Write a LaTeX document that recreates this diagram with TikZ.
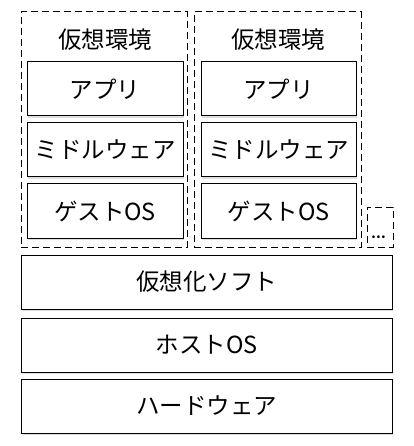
\documentclass[tikz,border=0pt]{standalone}
\usepackage{fontspec}
\newfontfamily\jpfont{Noto Sans CJK JP}
\usepackage{tikz}
\usetikzlibrary{shadows}
\usetikzlibrary{positioning}
\tikzset{layer/.style={draw, line width=1pt, fill=white, minimum height=54pt, inner sep=0pt,
	drop shadow={shadow xshift=0.8pt, shadow yshift=-2pt, opacity=0.25}}}
\tikzset{vm/.style={draw, dashed, dash pattern=on 7pt off 4pt, line width=1pt, inner sep=0pt}}

\begin{document}
\begin{tikzpicture}[x=1pt, y=-1pt]
	% Default font for each node
	\tikzstyle{every node}=[font=\jpfont\fontsize{23.5}{27}\selectfont];
	\useasboundingbox (0,0) rectangle (413,446);

	% VIRTUAL MACHINES
	\node[vm, minimum width=166pt, minimum height=235pt] (vm1) at (104,129.5) {};
	\node[vm, minimum width=167pt, minimum height=235pt] (vm2) at (277.5,129.5) {};
	\node[vm, minimum width=26pt, minimum height=40pt] (vmn) at (380,227) {};

	\node (title1) at (105,40) {仮想環境};
	\node (title2) at (278,40) {仮想環境};
	\node[font=\jpfont\bfseries\fontsize{13}{14}\selectfont] (dots) at (378.5,237) {…};

	% Guests
	\node[layer, minimum width=156pt] (app1) at (105,89) {アプリ};
	\node[layer, minimum width=156pt] (mid1) at (105,150) {ミドルウェア};
	\node[layer, minimum width=156pt] (os1) at (105,211) {ゲストOS};

	\node[layer, minimum width=155pt] (app2) at (278.5,89) {アプリ};
	\node[layer, minimum width=155pt] (mid2) at (278.5,150) {ミドルウェア};
	\node[layer, minimum width=155pt] (os2) at (278.5,211) {ゲストOS};

	% HOST
	\node[layer, minimum width=371pt] (hyper) at (206.5,282) {仮想化ソフト};
	\node[layer, minimum width=371pt] (host) at (206.5,345) {ホストOS};
	\node[layer, minimum width=371pt] (hw) at (206.5,406) {ハードウェア};
\end{tikzpicture}
\end{document}
